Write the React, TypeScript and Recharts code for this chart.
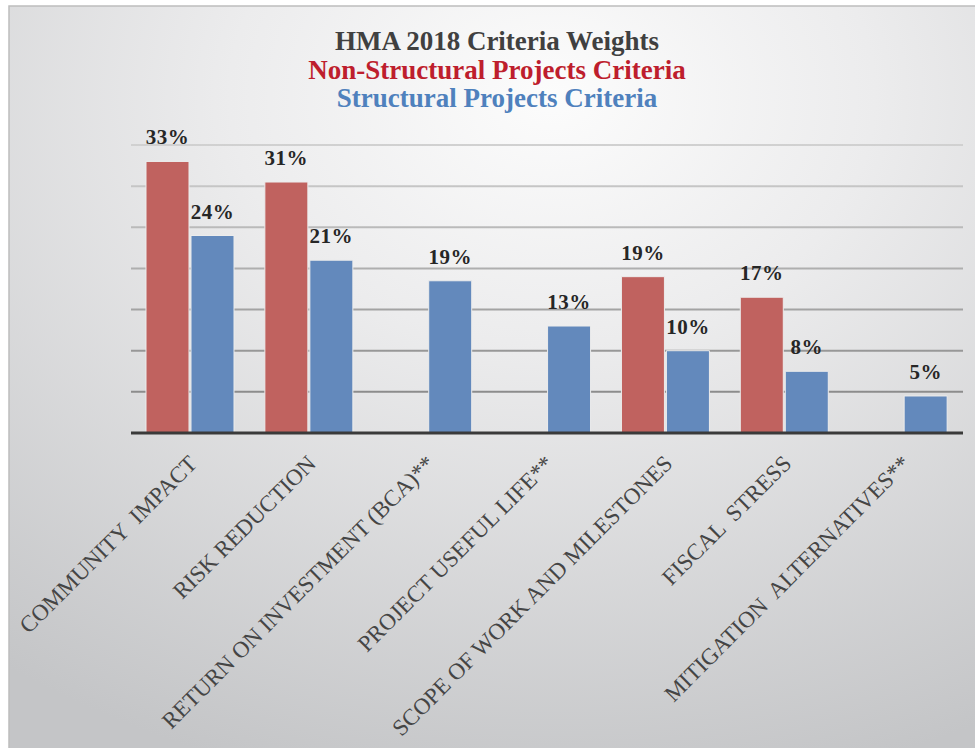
import React from 'react';
import { BarChart, Bar, XAxis, YAxis, CartesianGrid, LabelList } from 'recharts';

// criteria names (double spaces are in the original labels)
const categories = [
  'COMMUNITY  IMPACT',
  'RISK REDUCTION',
  'RETURN ON INVESTMENT (BCA)**',
  'PROJECT USEFUL LIFE**',
  'SCOPE OF WORK AND MILESTONES',
  'FISCAL  STRESS',
  'MITIGATION  ALTERNATIVES**',
];
// weights in % (labels show them rounded)
const nonStructural = [33, 30.5, null, null, 19, 16.5, null];
const structural = [24, 21, 18.5, 13, 10, 7.5, 4.5];
const yTicks = [0, 5, 10, 15, 20, 25, 30, 35];

const titleLines = [
  { text: 'HMA 2018 Criteria Weights', color: '#404040' },
  { text: 'Non-Structural Projects Criteria', color: '#BE1E2D' },
  { text: 'Structural Projects Criteria', color: '#4F81BD' },
];

const data = categories.map((name, i) => ({
  name,
  nonStructural: nonStructural[i],
  structural: structural[i],
}));

const SERIF = "'Liberation Serif', 'Times New Roman', serif";

const fmtPct = (v: any) => (v == null ? '' : `${Math.round(Number(v))}%`);

const AngledTick = (props: any) => {
  const { x, y, payload } = props;
  return (
    <g transform={`translate(${x + 8},${y + 32})`}>
      <text
        x={0}
        y={0}
        transform="rotate(-45)"
        textAnchor="end"
        fill="#454545"
        fontSize={23}
        fontFamily={SERIF}
        style={{ whiteSpace: 'pre' }}
      >
        {payload.value}
      </text>
    </g>
  );
};

export default function App() {
  return (
    <div style={{ position: 'absolute', left: 0, top: 0, width: 975, height: 748, background: '#fff' }}>
      <svg width={975} height={748} style={{ position: 'absolute', left: 0, top: 0 }}>
        <defs>
          <radialGradient id="bgGrad" cx="0.56" cy="0.12" r="0.95">
            <stop offset="0" stopColor="#fcfcfc" />
            <stop offset="0.35" stopColor="#ececed" />
            <stop offset="1" stopColor="#c4c5c7" />
          </radialGradient>
          <linearGradient id="gridGrad" gradientUnits="userSpaceOnUse" x1="0" y1="140" x2="0" y2="400">
            <stop offset="0" stopColor="#d2d2d2" />
            <stop offset="1" stopColor="#8a8a8a" />
          </linearGradient>
        </defs>
        <rect x={9} y={6} width={970} height={746} fill="url(#bgGrad)" stroke="#bdbdbd" strokeWidth={1.5} />
        {titleLines.map((l, i) => (
          <text
            key={i}
            x={497}
            y={50 + i * 28.5}
            textAnchor="middle"
            fontFamily={SERIF}
            fontWeight="bold"
            fontSize={27}
            fill={l.color}
          >
            {l.text}
          </text>
        ))}
      </svg>
      <div style={{ position: 'absolute', left: 0, top: 0 }}>
        <BarChart
          width={975}
          height={748}
          data={data}
          margin={{ top: 145, right: 12, left: 131, bottom: 15 }}
          barSize={43}
          barGap={2}
        >
          <CartesianGrid vertical={false} stroke="url(#gridGrad)" strokeWidth={2} />
          <YAxis hide domain={[0, 35]} ticks={yTicks} />
          <XAxis
            dataKey="name"
            height={300}
            interval={0}
            tickLine={false}
            tickSize={0}
            tickMargin={0}
            axisLine={{ stroke: '#3a3a3a', strokeWidth: 3 }}
            tick={<AngledTick />}
          />
          <Bar dataKey="nonStructural" fill="#C0625F" stroke="#ececec" strokeWidth={1} isAnimationActive={false}>
            <LabelList
              dataKey="nonStructural"
              position="top"
              offset={17}
              formatter={fmtPct}
              fill="#262626"
              fontSize={21}
              letterSpacing={0.5}
              fontWeight="bold"
              fontFamily={SERIF}
            />
          </Bar>
          <Bar dataKey="structural" fill="#6389BC" stroke="#ececec" strokeWidth={1} isAnimationActive={false}>
            <LabelList
              dataKey="structural"
              position="top"
              offset={17}
              formatter={fmtPct}
              fill="#262626"
              fontSize={21}
              letterSpacing={0.5}
              fontWeight="bold"
              fontFamily={SERIF}
            />
          </Bar>
        </BarChart>
      </div>
    </div>
  );
}
